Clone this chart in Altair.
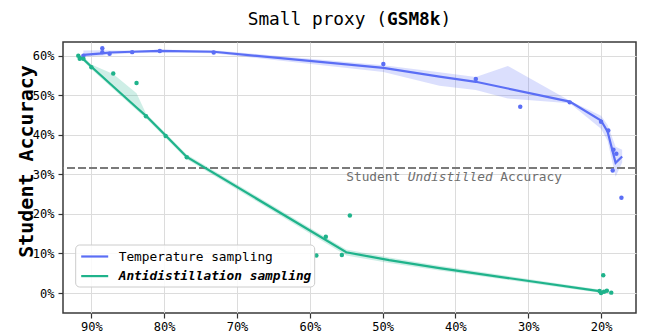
import altair as alt
import pandas as pd

BLUE = "#5b6ef5"
GREEN = "#1fb38b"
FONT = "DejaVu Sans Mono"

SERIES = ["Temperature sampling", "Antidistillation sampling"]

# ---- Temperature sampling ----
temp_x = [91.1, 88.5, 88.5, 87.5, 84.4, 80.6, 73.2, 49.9, 37.2, 31.1, 24.3, 20.0, 19.0, 18.3, 17.9, 18.4, 17.2]
temp_y = [60.0, 61.9, 60.9, 60.5, 60.9, 61.2, 60.8, 57.9, 54.1, 47.1, 48.2, 43.3, 41.1, 36.2, 35.2, 31.0, 24.1]

temp_line_x = [91.1, 88.5, 87.5, 84.4, 80.6, 73.2, 49.9, 42.2, 37.2, 32.8, 24.3, 20.0, 19.1, 18.0, 17.1]
temp_line_y = [60.2, 60.6, 60.8, 61.0, 61.2, 61.0, 56.9, 54.7, 53.4, 51.7, 48.4, 43.6, 40.8, 32.9, 34.5]
temp_lo = [59.7, 60.0, 60.3, 60.6, 60.8, 60.6, 55.9, 52.4, 51.3, 49.2, 48.0, 41.5, 38.5, 29.4, 33.0]
temp_hi = [61.3, 61.4, 61.3, 61.3, 61.5, 61.4, 57.6, 55.8, 54.6, 57.4, 48.6, 44.8, 42.5, 37.0, 36.2]

# ---- Antidistillation sampling ----
anti_x = [91.8, 91.6, 91.1, 90.0, 87.0, 83.8, 82.5, 79.8, 76.9, 59.1, 57.8, 55.6, 54.5,
          19.7, 20.2, 20.0, 19.6, 19.2, 18.6]
anti_y = [60.0, 59.2, 59.2, 57.1, 55.5, 53.1, 44.7, 39.7, 34.3, 9.5, 14.2, 9.6, 19.6,
          4.5, 0.5, 0.0, 0.3, 0.6, 0.1]

anti_line_x = [91.7, 91.1, 90.0, 87.0, 83.8, 82.5, 79.8, 76.9, 55.0, 49.1, 42.2, 20.0]
anti_line_y = [59.8, 59.1, 57.2, 52.2, 46.9, 44.8, 39.8, 34.4, 10.3, 8.3, 6.3, 0.4]
anti_lo = [59.3, 58.6, 56.6, 51.6, 46.3, 44.2, 39.2, 33.8, 9.5, 7.6, 5.7, 0.0]
anti_hi = [60.3, 59.7, 57.8, 55.4, 50.5, 45.4, 40.4, 35.0, 11.0, 9.0, 6.9, 0.8]

undistilled_acc = 31.6
x_ticks = [90, 80, 70, 60, 50, 40, 30, 20]
y_ticks = [0, 10, 20, 30, 40, 50, 60]
title_parts = ["Small proxy (", "GSM8k", ")"]
note_parts = ["Student", "Undistilled", "Accuracy"]

# ---- tables ----
pts = pd.concat([
    pd.DataFrame({"x": temp_x, "y": temp_y, "s": SERIES[0]}),
    pd.DataFrame({"x": anti_x, "y": anti_y, "s": SERIES[1]}),
])
temp_df = pd.DataFrame({"x": temp_line_x, "y": temp_line_y, "lo": temp_lo, "hi": temp_hi, "s": SERIES[0]})
anti_df = pd.DataFrame({"x": anti_line_x, "y": anti_line_y, "lo": anti_lo, "hi": anti_hi, "s": SERIES[1]})
lines = pd.concat([temp_df, anti_df])

xscale = alt.Scale(domain=[15.2, 93.9], reverse=True, nice=False, zero=False)
yscale = alt.Scale(domain=[-5.05, 63.46], nice=False, zero=False)
fscale = alt.Scale(domain=SERIES, range=[BLUE, GREEN])

xaxis = alt.Axis(values=x_ticks, labelExpr="datum.value + '%'", title=None,
                 grid=True, gridColor="#dcdcdc", gridWidth=1, domain=False,
                 tickColor="#333333", tickSize=5, tickWidth=1.2,
                 labelFont=FONT, labelFontSize=12, labelColor="black", labelPadding=3)
yaxis = alt.Axis(values=y_ticks, labelExpr="datum.value + '%'", title="Student Accuracy",
                 grid=True, gridColor="#dcdcdc", gridWidth=1, domain=False,
                 tickColor="#333333", tickSize=5, tickWidth=1.2,
                 labelFont=FONT, labelFontSize=12, labelColor="black", labelPadding=4,
                 titleFont=FONT, titleFontSize=20, titleFontWeight="bold", titleColor="black",
                 titleAngle=270, titleAlign="center", titleBaseline="alphabetic",
                 titleX=-31, titleY=119)

bands = alt.Chart(lines).mark_area(opacity=0.22).encode(
    x=alt.X("x:Q", scale=xscale, axis=xaxis),
    y=alt.Y("lo:Q", scale=yscale, axis=yaxis),
    y2="hi:Q",
    fill=alt.Fill("s:N", scale=fscale, legend=None),
    detail="s:N",
)

LEG_X = 12.7
LEG_Y = 203
ROW = 19.6


def make_legend(y, bold):
    kw = dict(
        title=None, orient="none", legendX=LEG_X + 4, legendY=y,
        symbolType="stroke", symbolSize=729, symbolStrokeWidth=2.2,
        labelFont=FONT, labelFontSize=12.8, labelColor="black",
        labelOffset=9, padding=0, labelLimit=400,
    )
    if bold:
        kw.update(labelFontWeight="bold", labelFontStyle="italic")
    return alt.Legend(**kw)


temp_line = alt.Chart(temp_df).mark_line(strokeWidth=2.2).encode(
    x=alt.X("x:Q", scale=xscale),
    y=alt.Y("y:Q", scale=yscale),
    color=alt.Color("s:N", scale=alt.Scale(domain=[SERIES[0]], range=[BLUE]),
                    legend=make_legend(LEG_Y - 3.5, False)),
    order=alt.Order("x:Q", sort="descending"),
)
anti_line = alt.Chart(anti_df).mark_line(strokeWidth=2.2).encode(
    x=alt.X("x:Q", scale=xscale),
    y=alt.Y("y:Q", scale=yscale),
    stroke=alt.Stroke("s:N", scale=alt.Scale(domain=[SERIES[1]], range=[GREEN]),
                      legend=make_legend(LEG_Y - 3.5 + ROW, True)),
    order=alt.Order("x:Q", sort="descending"),
)

point_layer = alt.Chart(pts).mark_circle(size=20, opacity=1).encode(
    x=alt.X("x:Q", scale=xscale),
    y=alt.Y("y:Q", scale=yscale),
    fill=alt.Fill("s:N", scale=fscale, legend=None),
)

rule = alt.Chart(pd.DataFrame({"y": [undistilled_acc]})).mark_rule(
    color="#7a7a7a", strokeWidth=2, strokeDash=[8, 3]
).encode(y=alt.Y("y:Q", scale=yscale))

# legend frame (decoration behind the two legend entries)
legend_box = alt.Chart(pd.DataFrame({"k": [0]})).mark_rect(
    fill="white", fillOpacity=0.85, stroke="#cccccc", strokeWidth=1, cornerRadius=4
).encode(x=alt.value(LEG_X), x2=alt.value(LEG_X + 239), y=alt.value(LEG_Y), y2=alt.value(LEG_Y + 42))

# annotation under dashed line (monospace: fixed advance per char)
note_fs = 12.8
cw_note = 0.602 * note_fs
note_layers = []
offset = 0
for i, part in enumerate(note_parts):
    note_layers.append(
        alt.Chart(pd.DataFrame({"t": [part], "x": [55.0], "y": [28.2]})).mark_text(
            align="left", baseline="alphabetic", font=FONT, fontSize=note_fs,
            color="#6e6e6e", fontStyle="italic" if i == 1 else "normal", dx=offset
        ).encode(x=alt.X("x:Q", scale=xscale), y=alt.Y("y:Q", scale=yscale), text="t:N")
    )
    offset += (len(part) + 1) * cw_note

# title with bold part
title_fs = 17.8
cw_title = 0.602 * title_fs
W, H = 573, 271
total = sum(len(p) for p in title_parts) * cw_title
start = W / 2 - total / 2
title_layers = []
offset = 0
for i, part in enumerate(title_parts):
    title_layers.append(
        alt.Chart(pd.DataFrame({"t": [part]})).mark_text(
            align="left", baseline="alphabetic", font=FONT, fontSize=title_fs,
            color="black", fontWeight="bold" if i == 1 else "normal"
        ).encode(x=alt.value(start + offset), y=alt.value(-17.4), text="t:N")
    )
    offset += len(part) * cw_title

chart = alt.layer(
    bands, rule, temp_line, anti_line, point_layer, legend_box, *note_layers, *title_layers
).resolve_scale(color="independent", stroke="independent").properties(
    width=W, height=H,
    autosize=alt.AutoSizeParams(type="none"),
    padding={"left": 55, "top": 34, "right": 2, "bottom": 19},
).configure_view(
    stroke="#3a3a3a", strokeWidth=1.5
)

chart.save("out.html", embed_options={"renderer": "svg", "actions": False})
